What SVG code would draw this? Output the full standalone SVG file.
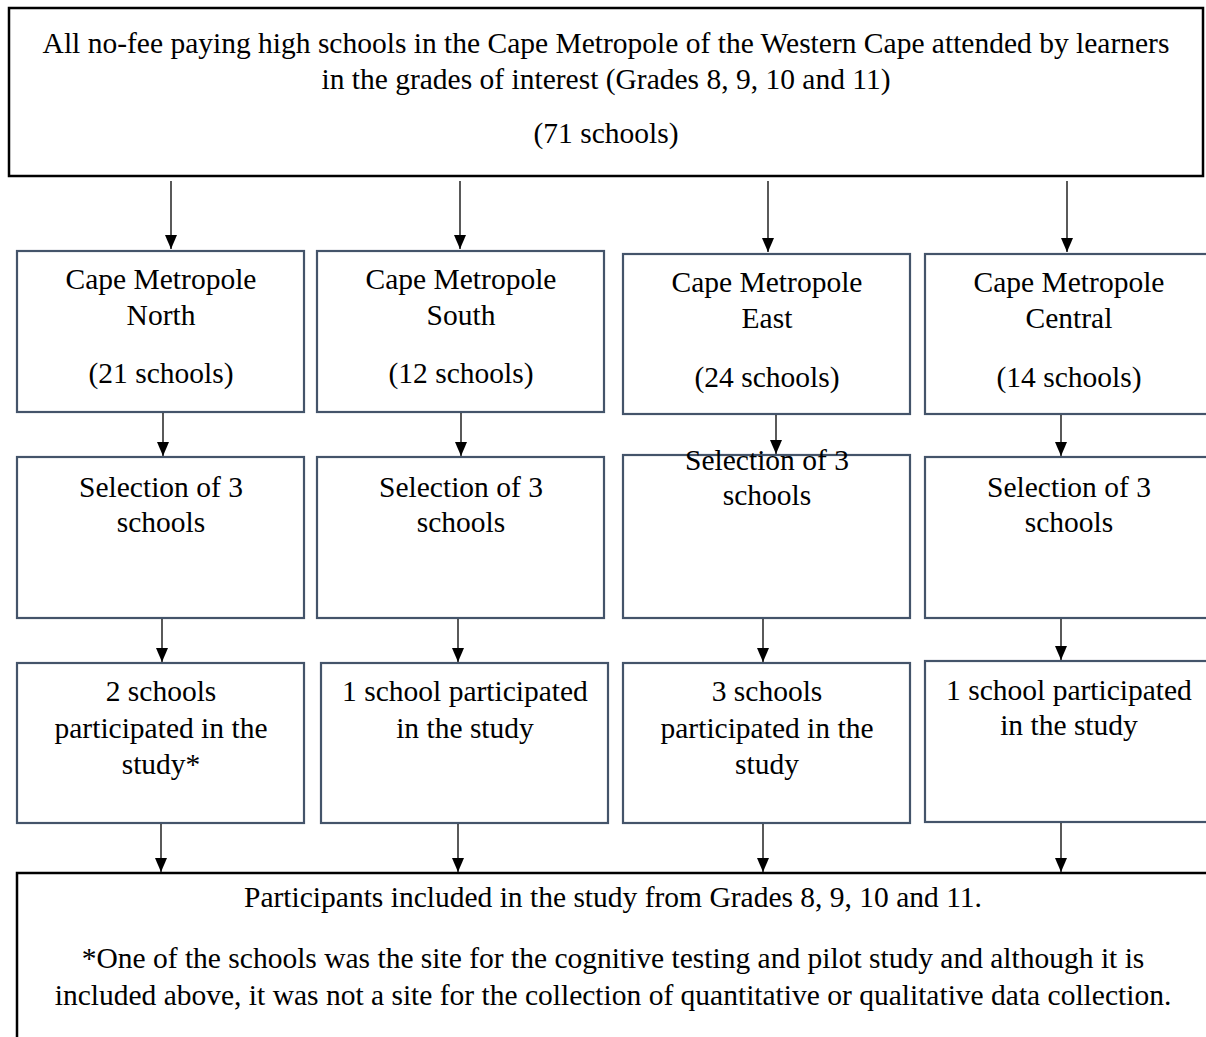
<svg xmlns="http://www.w3.org/2000/svg" width="1206" height="1037" viewBox="0 0 1206 1037">
<defs>
<marker id="ah" markerWidth="14" markerHeight="12" refX="14" refY="6" orient="auto" markerUnits="userSpaceOnUse" viewBox="0 0 14 12">
<path d="M0,0 L14,6 L0,12 Z" fill="#000"/>
</marker>
</defs>
<style>
text{font-family:'Liberation Serif','Times New Roman',serif;font-size:29.5px;text-anchor:middle;fill:#000}
.outer{fill:#fff;stroke:#000;stroke-width:2.5}
.node{fill:#fff;stroke:#44546A;stroke-width:2.2}
.con line{stroke:#000;stroke-width:1.3}
</style>
<rect width="1206" height="1037" fill="#fff"/>
<g id="top">
<rect class="outer" x="9" y="8" width="1194" height="168"/>
<text x="606" y="53">All no-fee paying high schools in the Cape Metropole of the Western Cape attended by learners</text>
<text x="606" y="89">in the grades of interest (Grades 8, 9, 10 and 11)</text>
<text x="606" y="143">(71 schools)</text>
</g>
<g id="north">
<rect class="node" x="17" y="251" width="287" height="161"/>
<text x="161" y="289">Cape Metropole</text>
<text x="161" y="325">North</text>
<text x="161" y="383">(21 schools)</text>
</g>
<g id="south">
<rect class="node" x="317" y="251" width="287" height="161"/>
<text x="461" y="289">Cape Metropole</text>
<text x="461" y="325">South</text>
<text x="461" y="383">(12 schools)</text>
</g>
<g id="east">
<rect class="node" x="623" y="254" width="287" height="160"/>
<text x="767" y="292">Cape Metropole</text>
<text x="767" y="328">East</text>
<text x="767" y="387">(24 schools)</text>
</g>
<g id="central">
<rect class="node" x="925" y="254" width="290" height="160"/>
<text x="1069" y="292">Cape Metropole</text>
<text x="1069" y="328">Central</text>
<text x="1069" y="387">(14 schools)</text>
</g>
<g id="sel-north">
<rect class="node" x="17" y="457" width="287" height="161"/>
<text x="161" y="497">Selection of 3</text>
<text x="161" y="532">schools</text>
</g>
<g id="sel-south">
<rect class="node" x="317" y="457" width="287" height="161"/>
<text x="461" y="497">Selection of 3</text>
<text x="461" y="532">schools</text>
</g>
<g id="sel-east">
<rect class="node" x="623" y="455" width="287" height="163"/>
<text x="767" y="470">Selection of 3</text>
<text x="767" y="505">schools</text>
</g>
<g id="sel-central">
<rect class="node" x="925" y="457" width="290" height="161"/>
<text x="1069" y="497">Selection of 3</text>
<text x="1069" y="532">schools</text>
</g>
<g id="part-north">
<rect class="node" x="17" y="663" width="287" height="160"/>
<text x="161" y="701">2 schools</text>
<text x="161" y="738">participated in the</text>
<text x="161" y="774">study*</text>
</g>
<g id="part-south">
<rect class="node" x="321" y="663" width="287" height="160"/>
<text x="465" y="701">1 school participated</text>
<text x="465" y="738">in the study</text>
</g>
<g id="part-east">
<rect class="node" x="623" y="663" width="287" height="160"/>
<text x="767" y="701">3 schools</text>
<text x="767" y="738">participated in the</text>
<text x="767" y="774">study</text>
</g>
<g id="part-central">
<rect class="node" x="925" y="661" width="290" height="161"/>
<text x="1069" y="700">1 school participated</text>
<text x="1069" y="735">in the study</text>
</g>
<g id="bottom">
<rect class="outer" x="17" y="873" width="1200" height="200"/>
<text x="613" y="907">Participants included in the study from Grades 8, 9, 10 and 11.</text>
<text x="613" y="968">*One of the schools was the site for the cognitive testing and pilot study and although it is</text>
<text x="613" y="1005">included above, it was not a site for the collection of quantitative or qualitative data collection.</text>
</g>
<g id="connectors" class="con">
<line x1="171" y1="181" x2="171" y2="249" marker-end="url(#ah)"/>
<line x1="460" y1="181" x2="460" y2="249" marker-end="url(#ah)"/>
<line x1="768" y1="181" x2="768" y2="252" marker-end="url(#ah)"/>
<line x1="1067" y1="181" x2="1067" y2="252" marker-end="url(#ah)"/>
<line x1="163" y1="413" x2="163" y2="456" marker-end="url(#ah)"/>
<line x1="461" y1="413" x2="461" y2="456" marker-end="url(#ah)"/>
<line x1="776" y1="415" x2="776" y2="454" marker-end="url(#ah)"/>
<line x1="1061" y1="415" x2="1061" y2="456" marker-end="url(#ah)"/>
<line x1="162" y1="619" x2="162" y2="662" marker-end="url(#ah)"/>
<line x1="458" y1="619" x2="458" y2="662" marker-end="url(#ah)"/>
<line x1="763" y1="619" x2="763" y2="662" marker-end="url(#ah)"/>
<line x1="1061" y1="619" x2="1061" y2="660" marker-end="url(#ah)"/>
<line x1="161" y1="824" x2="161" y2="872" marker-end="url(#ah)"/>
<line x1="458" y1="824" x2="458" y2="872" marker-end="url(#ah)"/>
<line x1="763" y1="824" x2="763" y2="872" marker-end="url(#ah)"/>
<line x1="1061" y1="823" x2="1061" y2="872" marker-end="url(#ah)"/>
</g>
</svg>
